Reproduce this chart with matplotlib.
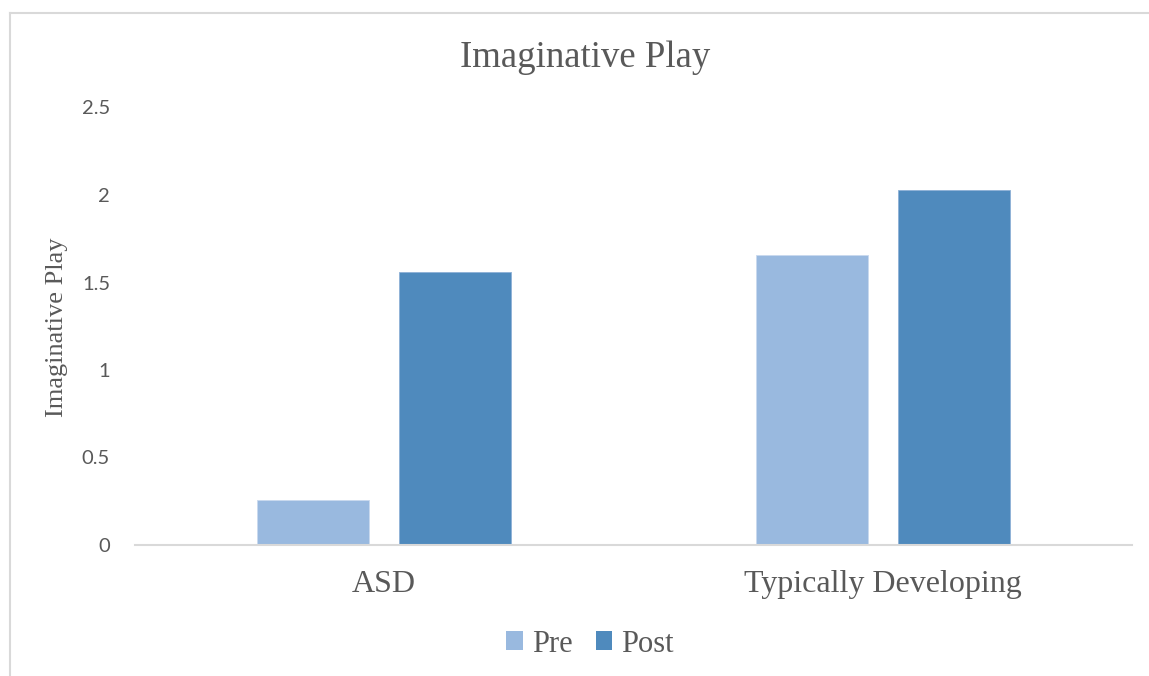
import matplotlib
matplotlib.use("Agg")
import matplotlib.pyplot as plt
from matplotlib.patches import Patch
from matplotlib.lines import Line2D
import numpy as np

# Data
groups = ["ASD", "Typically Developing"]
series_names = ["Pre", "Post"]
pre_values = [0.26, 1.66]
post_values = [1.56, 2.03]
y_ticks = [0, 0.5, 1, 1.5, 2, 2.5]
y_tick_labels = ["0", "0.5", "1", "1.5", "2", "2.5"]

title_text = "Imaginative Play"
y_label_text = "Imaginative Play"

# Styling
pre_color = "#99b9df"
post_color = "#4f8abd"
text_color = "#595959"
line_color = "#d9d9d9"
serif = "Liberation Serif"
sans = "Lato"

W, H = 1149, 676
fig = plt.figure(figsize=(W / 100, H / 100), dpi=100)
fig.patch.set_facecolor("white")

ax = fig.add_axes([135 / W, 1 - 545 / H, (1132 - 135) / W, (545 - 107.5) / H])

x = np.arange(len(groups))
bar_w = 0.225
offset = 0.1425
ax.bar(x - offset, pre_values, bar_w, color=pre_color, edgecolor="#c9d9ee",
       linewidth=0.6, label=series_names[0], zorder=2)
ax.bar(x + offset, post_values, bar_w, color=post_color, edgecolor="#8db0d6",
       linewidth=0.6, label=series_names[1], zorder=2)

ax.set_xlim(-0.5, len(groups) - 0.5)
ax.set_ylim(0, 2.5)

for side in ["top", "right", "left"]:
    ax.spines[side].set_visible(False)
ax.spines["bottom"].set_color(line_color)
ax.spines["bottom"].set_linewidth(1.5)
ax.spines["bottom"].set_zorder(3)

ax.set_yticks(y_ticks)
ax.set_yticklabels(y_tick_labels, fontfamily=sans, fontsize=14.5, color=text_color)
ax.tick_params(axis="y", length=0, pad=18)

ax.set_xticks(x)
ax.set_xticklabels(groups, fontfamily=serif, fontsize=23, color=text_color)
ax.tick_params(axis="x", length=0, pad=18)

# Axis title
fig.text(57 / W, 1 - 327 / H, y_label_text, rotation=90, ha="center", va="center",
         fontfamily=serif, fontsize=19, color=text_color)

# Chart title
fig.text(585 / W, 1 - 67 / H, title_text, ha="center", va="baseline",
         fontfamily=serif, fontsize=26.5, color=text_color)

# Legend
handles = [Patch(facecolor=pre_color, edgecolor="none"),
           Patch(facecolor=post_color, edgecolor="none")]
fig.legend(handles, series_names, loc="center", bbox_to_anchor=(590 / W, 1 - 644 / H),
           ncol=2, frameon=False, prop={"family": serif, "size": 22},
           handlelength=0.55, handleheight=0.55, handletextpad=0.3,
           columnspacing=0.75, labelcolor=text_color)

# Chart area border (top and left edges)
fig.add_artist(Line2D([9.5 / W, 1.0], [1 - 12.5 / H, 1 - 12.5 / H],
                      transform=fig.transFigure, color=line_color, linewidth=1.5))
fig.add_artist(Line2D([9.5 / W, 9.5 / W], [0.0, 1 - 12.5 / H],
                      transform=fig.transFigure, color=line_color, linewidth=1.5))

fig.savefig("out.png", dpi=100, facecolor="white")
